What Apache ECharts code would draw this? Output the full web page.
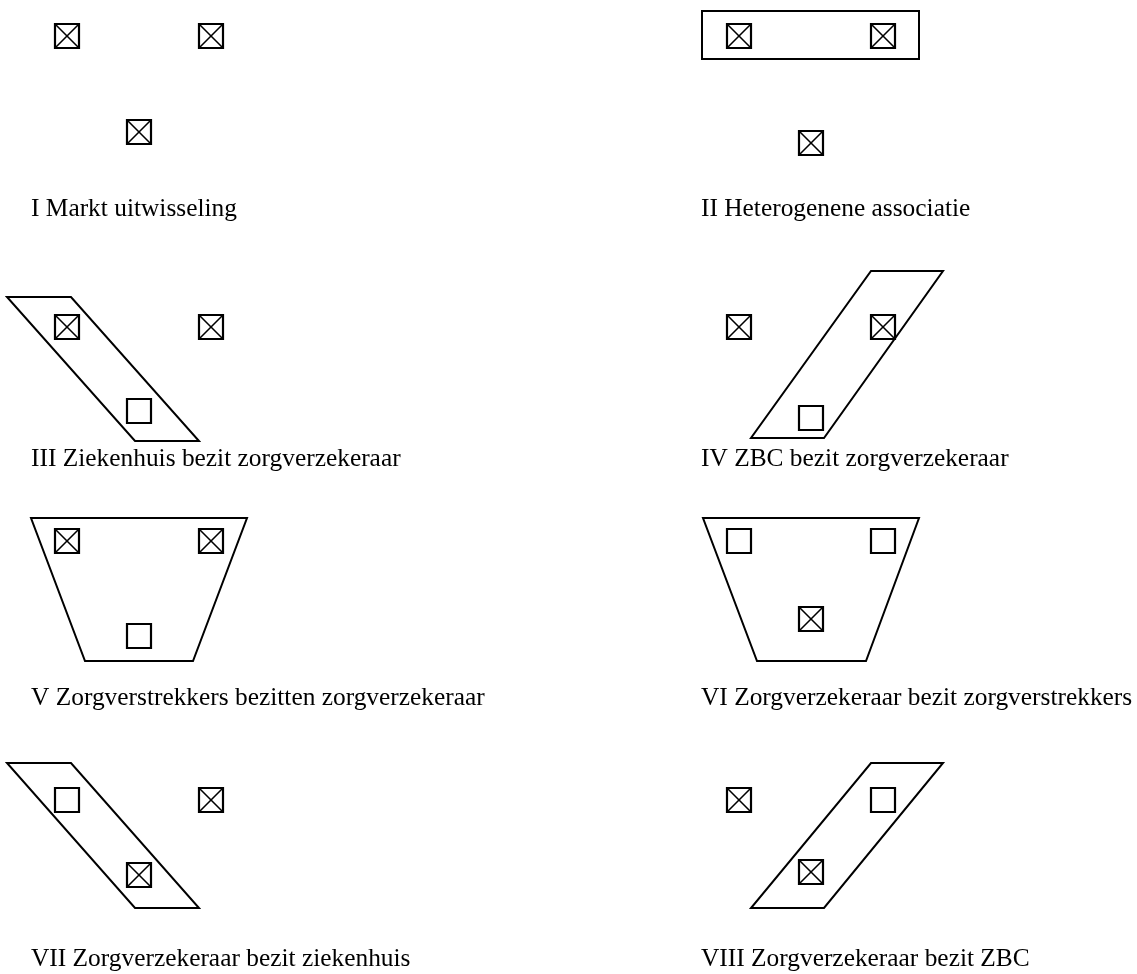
<!DOCTYPE html>
<html>
<head>
<meta charset="utf-8">
<script src="https://cdn.jsdelivr.net/npm/echarts@6/dist/echarts.min.js"></script>
<style>
  html, body { margin: 0; background: #fff; }
  #chart { width: 1137px; height: 974px; }
</style>
</head>
<body>
<div id="chart"></div>
<script>
// boxes: [x, y, crossed]  (1 = box with a cross, 0 = empty box)
const boxes = [
  [67, 36, 1], [211, 36, 1], [139, 132, 1],     // I
  [739, 36, 1], [883, 36, 1], [811, 143, 1],    // II
  [67, 327, 1], [211, 327, 1], [139, 411, 0],   // III
  [739, 327, 1], [883, 327, 1], [811, 418, 0],  // IV
  [67, 541, 1], [211, 541, 1], [139, 636, 0],   // V
  [739, 541, 0], [883, 541, 0], [811, 619, 1],  // VI
  [67, 800, 0], [211, 800, 1], [139, 875, 1],   // VII
  [739, 800, 1], [883, 800, 0], [811, 872, 1]   // VIII
];

// outlines round the owned parties
const outlineII = [[702, 11], [919, 11], [919, 59], [702, 59]];
const outlineIII = [[7, 297], [71, 297], [199, 441], [135, 441]];
const outlineIV = [[871, 271], [943, 271], [824, 438], [751, 438]];
const outlineV = [[31, 518], [247, 518], [193, 661], [85, 661]];
const outlineVI = [[703, 518], [919, 518], [866, 661], [757, 661]];
const outlineVII = [[7, 763], [71, 763], [199, 908], [135, 908]];
const outlineVIII = [[871, 763], [943, 763], [824, 908], [751, 908]];
const outlines = [outlineII, outlineIII, outlineIV, outlineV, outlineVI, outlineVII, outlineVIII];

// captions: [x, baseline y, text]
const labels = [
  [31, 216, "I Markt uitwisseling"],
  [701, 216, "II Heterogenene associatie"],
  [31, 466, "III Ziekenhuis bezit zorgverzekeraar"],
  [701, 466, "IV ZBC bezit zorgverzekeraar"],
  [31, 705, "V Zorgverstrekkers bezitten zorgverzekeraar"],
  [701, 705, "VI Zorgverzekeraar bezit zorgverstrekkers"],
  [31, 966, "VII Zorgverzekeraar bezit ziekenhuis"],
  [701, 966, "VIII Zorgverzekeraar bezit ZBC"]
];

const fontSize = 25.4;
const boxSize = 24;

const chart = echarts.init(document.getElementById("chart"));

chart.setOption({
  animation: false,
  backgroundColor: "#fff",
  grid: { left: 0, right: 0, top: 0, bottom: 0 },
  xAxis: { type: "value", min: 0, max: 1137, show: false },
  yAxis: { type: "value", min: 0, max: 974, inverse: true, show: false },
  series: [
    {
      type: "custom",
      name: "outlines",
      data: outlines.map((o, i) => [i]),
      renderItem: (params, api) => {
        const pts = outlines[params.dataIndex].map((p) => api.coord(p));
        return {
          type: "polygon",
          shape: { points: pts },
          style: { fill: "none", stroke: "#000", lineWidth: 2 }
        };
      }
    },
    {
      type: "custom",
      name: "boxes",
      data: boxes,
      renderItem: (params, api) => {
        const c = api.coord([api.value(0), api.value(1)]);
        const h = boxSize / 2;
        const x0 = c[0] - h, y0 = c[1] - h, x1 = c[0] + h, y1 = c[1] + h;
        const children = [
          {
            type: "rect",
            shape: { x: x0, y: y0, width: boxSize, height: boxSize },
            style: { fill: "#fff", stroke: "#000", lineWidth: 2.2 }
          }
        ];
        if (api.value(2) === 1) {
          children.push(
            { type: "line", shape: { x1: x0, y1: y0, x2: x1, y2: y1 }, style: { stroke: "#000", lineWidth: 1.6 } },
            { type: "line", shape: { x1: x1, y1: y0, x2: x0, y2: y1 }, style: { stroke: "#000", lineWidth: 1.6 } }
          );
        }
        return { type: "group", children: children };
      }
    },
    {
      type: "custom",
      name: "labels",
      data: labels.map((l) => [l[0], l[1]]),
      renderItem: (params, api) => {
        const c = api.coord([api.value(0), api.value(1)]);
        return {
          type: "text",
          x: c[0],
          y: c[1] + Math.round(fontSize * 0.22),  // bottom of the line box sits below the baseline
          style: {
            text: labels[params.dataIndex][2],
            fill: "#000",
            font: fontSize + "px 'Liberation Serif', 'Times New Roman', serif",
            align: "left",
            verticalAlign: "bottom"
          }
        };
      }
    }
  ]
});
</script>
</body>
</html>
